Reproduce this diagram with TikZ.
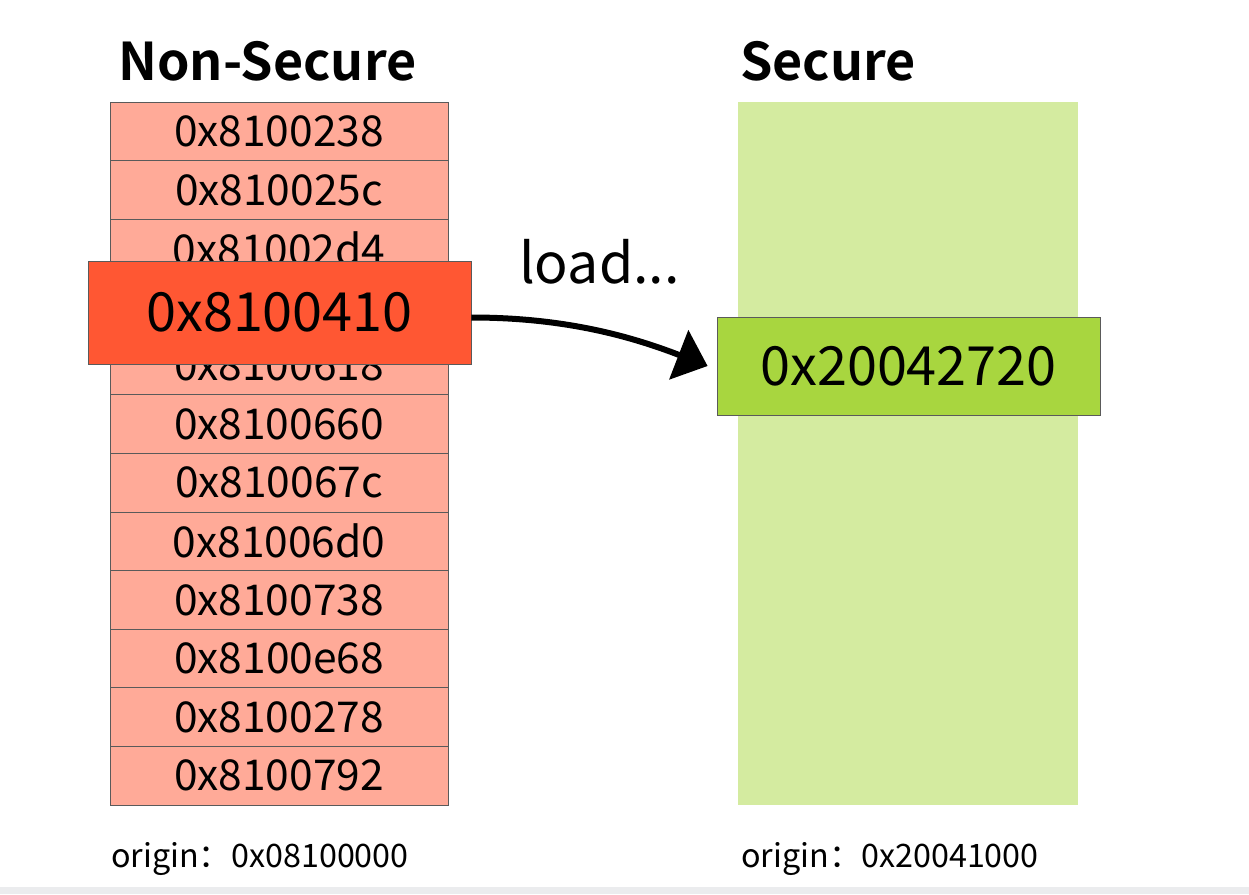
\documentclass[tikz,border=0pt]{standalone}
\usepackage{fontspec}
\setmainfont{Noto Sans CJK SC}[BoldFont={Noto Sans CJK SC Bold}]
\usetikzlibrary{arrows.meta}
\definecolor{cellfill}{RGB}{255,170,152}
\definecolor{hlfill}{RGB}{255,87,51}
\definecolor{seccol}{RGB}{212,235,160}
\definecolor{secbox}{RGB}{168,214,63}
\definecolor{edgegrey}{RGB}{90,90,90}
\definecolor{barcol}{RGB}{235,236,238}
\tikzset{
  cell/.style={draw=edgegrey, line width=0.8pt, fill=cellfill, minimum width=338pt, minimum height=58.6pt, inner sep=0pt, font=\fontsize{42.5}{48}\selectfont},
  hlbox/.style={draw=edgegrey, line width=0.8pt, fill=hlfill, minimum width=383pt, minimum height=103pt, inner sep=0pt, font=\fontsize{54}{60}\selectfont},
  gbox/.style={draw=edgegrey, line width=0.8pt, fill=secbox, minimum width=383pt, minimum height=98pt, inner sep=0pt, font=\fontsize{54}{60}\selectfont},
  title/.style={anchor=base west, inner sep=0pt, font=\fontsize{52}{58}\selectfont\bfseries},
  lbl/.style={anchor=base west, inner sep=0pt, font=\fontsize{55.5}{60}\selectfont},
  orig/.style={anchor=base west, inner sep=0pt, font=\fontsize{32.3}{38}\selectfont},
  loadarrow/.style={line width=6pt, -{Triangle[length=31pt,width=52pt]}}
}
\begin{document}
\begin{tikzpicture}[x=1pt,y=-1pt]
\useasboundingbox (0,0) rectangle (1249,894);
\fill[white] (0,0) rectangle (1249,894);
\fill[barcol] (0,887) rectangle (1249,894);
% titles
\node[title] (tns) at (118,80) {Non-Secure};
\node[title] (ts) at (740,80) {Secure};
% secure column
\fill[seccol] (738,102) rectangle (1078,805);
% non-secure cells
\foreach \i/\t in {0/0x8100238,1/0x810025c,2/0x81002d4,3/{},4/0x8100618,5/0x8100660,6/0x810067c,7/0x81006d0,8/0x8100738,9/0x8100e68,10/0x8100278,11/0x8100792}{
  \node[cell] (c\i) at (279,{102+58.58*\i+29.29}) {\t};
}
% highlighted
\node[hlbox] (hl) at (279.5,312.5) {0x8100410};
% secure box
\node[gbox] (gb) at (908.5,366) {0x20042720};
% label
\node[lbl] (ld) at (519,283) {load...};
% arrow
\draw[loadarrow] ([yshift=-5pt]hl.east) .. controls +(90,0) and +(-80,-31) .. ([xshift=-9pt]gb.west);
% origins
\node[orig] (o1) at (111,867) {origin：0x08100000};
\node[orig] (o2) at (741,867) {origin：0x20041000};
\end{tikzpicture}
\end{document}
